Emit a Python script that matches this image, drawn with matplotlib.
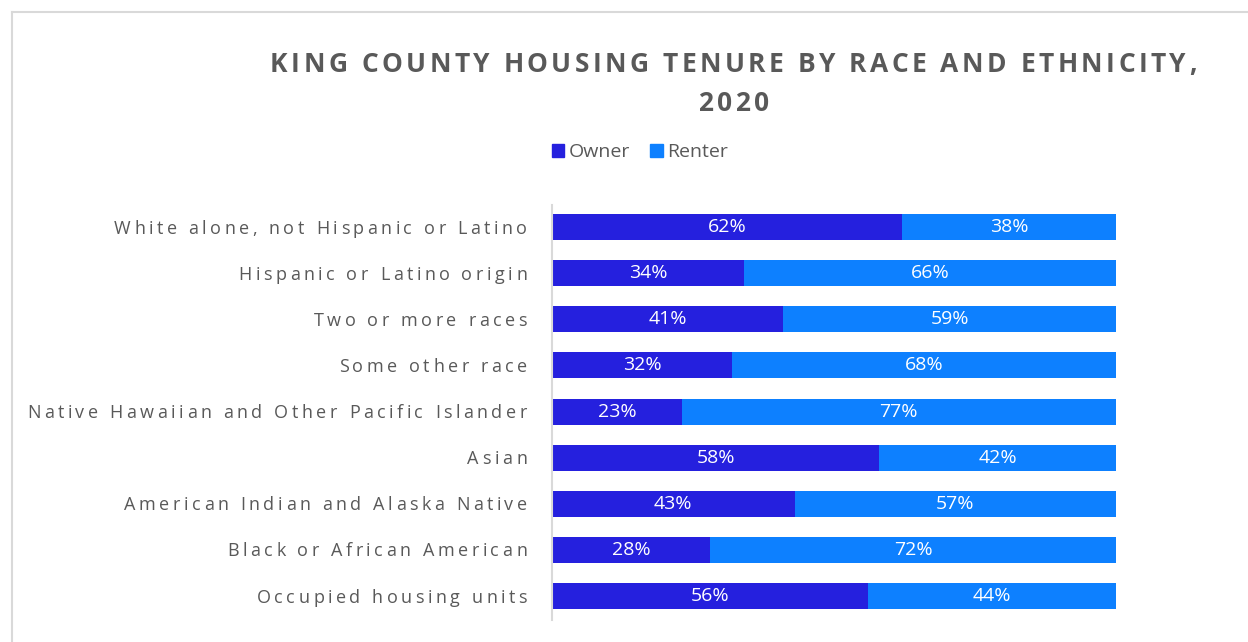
import matplotlib
matplotlib.use("Agg")
import matplotlib.pyplot as plt
from matplotlib.lines import Line2D
from matplotlib.patches import Patch

# ---------------- data ----------------
categories = [
    "White alone, not Hispanic or Latino",
    "Hispanic or Latino origin",
    "Two or more races",
    "Some other race",
    "Native Hawaiian and Other Pacific Islander",
    "Asian",
    "American Indian and Alaska Native",
    "Black or African American",
    "Occupied housing units",
]
owner = [62, 34, 41, 32, 23, 58, 43, 28, 56]
renter = [38, 66, 59, 68, 77, 42, 57, 72, 44]
series_names = ["Owner", "Renter"]
title_lines = ["KING COUNTY HOUSING TENURE BY RACE AND ETHNICITY,", "2020"]

# ---------------- style ----------------
OWNER_C = "#2520DE"
RENTER_C = "#0D80FF"
TEXT_C = "#595959"
GRID_C = "#D9D9D9"
FONT = "Open Sans"

W, H = 1248, 642
fig = plt.figure(figsize=(W / 100, H / 100), dpi=100)
fig.patch.set_facecolor("white")

# chart border (cropped at right / bottom)
fig.add_artist(Line2D([12 / W, 1.0], [1 - 12 / H, 1 - 12 / H], color=GRID_C, lw=1.5,
                      transform=fig.transFigure))
fig.add_artist(Line2D([12 / W, 12 / W], [1 - 12 / H, 0.0], color=GRID_C, lw=1.5,
                      transform=fig.transFigure))

ax = fig.add_axes([552 / W, 1 - 620 / H, (1116 - 552) / W, (620 - 205) / H])
ypos = list(range(len(categories)))
b1 = ax.barh(ypos, owner, height=0.565, color=OWNER_C, label=series_names[0])
b2 = ax.barh(ypos, renter, left=owner, height=0.565, color=RENTER_C, label=series_names[1])
ax.bar_label(b1, labels=[f"{v}%" for v in owner], label_type="center", color="white",
             fontsize=14, family=FONT)
ax.bar_label(b2, labels=[f"{v}%" for v in renter], label_type="center", color="white",
             fontsize=14, family=FONT)
ax.set_xlim(0, 100)
ax.set_ylim(8.52, -0.48)
for s in ["top", "right", "bottom"]:
    ax.spines[s].set_visible(False)
ax.spines["left"].set_color(GRID_C)
ax.spines["left"].set_linewidth(1.5)
ax.set_xticks([])
ax.set_yticks([])

# legend
handles = [Patch(color=OWNER_C), Patch(color=RENTER_C)]
leg = fig.legend(handles, series_names, loc="center", bbox_to_anchor=(640 / W, 1 - 152 / H),
                 ncol=2, frameon=False, handlelength=0.65, handleheight=0.65,
                 handletextpad=0.25, columnspacing=1.0,
                 prop={"family": FONT, "size": 14})
for t in leg.get_texts():
    t.set_color(TEXT_C)

# ---------------- tracked (letter-spaced) text ----------------
fig.canvas.draw()
renderer = fig.canvas.get_renderer()
_cache = {}


def advance(c, **kw):
    key = (c, tuple(sorted(kw.items())))
    if key not in _cache:
        t1 = fig.text(0, 0, "|" + c + "|", **kw)
        t2 = fig.text(0, 0, "||", **kw)
        w = t1.get_window_extent(renderer).width - t2.get_window_extent(renderer).width
        t1.remove()
        t2.remove()
        _cache[key] = w
    return _cache[key]


def natural_width(s, **kw):
    return sum(advance(c, **kw) for c in s)


def tracked(s, x, base, tracking, ha, **kw):
    ws = [advance(c, **kw) for c in s]
    total = sum(ws) + tracking * (len(s) - 1)
    if ha == "right":
        x0 = x - total
    elif ha == "center":
        x0 = x - total / 2
    else:
        x0 = x
    cx = x0
    for c, w in zip(s, ws):
        if c != " ":
            fig.text(cx / W, 1 - base / H, c, ha="left", va="baseline", **kw)
        cx += w + tracking


# title
tkw = dict(family=FONT, fontsize=19, fontweight="bold", color=TEXT_C)
t_track = (1197 - 270 - natural_width(title_lines[0], **tkw)) / (len(title_lines[0]) - 1)
tracked(title_lines[0], (270 + 1197) / 2, 72, t_track, "center", **tkw)
tracked(title_lines[1], (270 + 1197) / 2, 111, t_track, "center", **tkw)

# category labels
lkw = dict(family=FONT, fontsize=13, color=TEXT_C)
l_track = (413 - natural_width(categories[0], **lkw)) / (len(categories[0]) - 1)
for i, cat in enumerate(categories):
    yc = ax.transData.transform((0, i))[1]  # display coords (y up)
    base_from_top = H - yc + 6.5
    tracked(cat, 527, base_from_top, l_track, "right", **lkw)

fig.savefig("out.png", dpi=100, facecolor="white")
